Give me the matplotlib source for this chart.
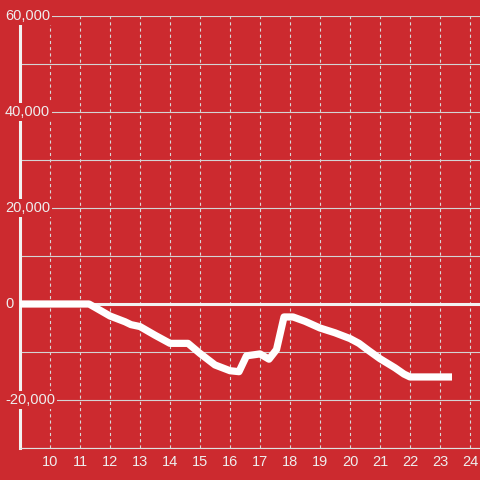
import matplotlib.pyplot as plt
from matplotlib.ticker import MultipleLocator
import matplotlib.transforms as mtransforms

plt.rcParams['font.family'] = ['Liberation Sans', 'DejaVu Sans']

# hour of day vs. running balance
hours = [9, 11.3, 11.5, 12, 12.5, 12.7, 13, 13.5, 14, 14.6, 15, 15.5, 16, 16.3,
         16.55, 17, 17.3, 17.55, 17.8, 18.1, 18.5, 19, 19.5, 20, 20.3, 20.6,
         21, 21.5, 21.8, 22, 23.4]
balance = [0, 0, -700, -2500, -3700, -4300, -4700, -6500, -8200, -8200, -10300,
           -12700, -13900, -14100, -10800, -10400, -11500, -9500, -2700, -2700,
           -3600, -5000, -6000, -7200, -8200, -9600, -11400, -13300, -14600,
           -15200, -15200]

y_ticks = [-20000, 0, 20000, 40000, 60000]
y_labels = ['-20,000', '0', '20,000', '40,000', '60,000']
x_ticks = list(range(10, 25))

bg = '#cc2a2f'
fg = '#eeeeee'

fig = plt.figure(figsize=(4.8, 4.8), dpi=100, facecolor=bg)
ax = fig.add_axes([20 / 480, 32 / 480, 460 / 480, 432 / 480])
ax.set_facecolor(bg)

ax.set_xlim(9, 24 + 1 / 3)
ax.set_ylim(-30000, 60000)

# grid
ax.yaxis.set_minor_locator(MultipleLocator(10000))
ax.grid(which='both', axis='y', color='#d4d4d4', lw=0.8, zorder=1)
ax.set_xticks(x_ticks)
ax.grid(which='major', axis='x', color='#d8d8d8', lw=0.8,
        linestyle=(0, (2.8, 2.8)), zorder=1)
ax.axhline(0, color='#f2f2f2', lw=2.2, zorder=2)

ax.plot(hours, balance, color='white', lw=5.2, solid_capstyle='butt',
        solid_joinstyle='round', zorder=3)

# spines
for s in ['top', 'right']:
    ax.spines[s].set_visible(False)
ax.spines['left'].set_color('#f2f2f2')
ax.spines['left'].set_linewidth(2.2)
ax.spines['bottom'].set_color('#e0e0e0')
ax.spines['bottom'].set_linewidth(0.8)

# y labels sit on top of the axis with a background patch
ax.set_yticks(y_ticks)
ax.set_yticklabels([])
ax.tick_params(axis='y', which='both', length=0)
trans = mtransforms.blended_transform_factory(ax.transAxes, ax.transData)
for v, lab in zip(y_ticks, y_labels):
    ax.text(-15 / 460, v, lab, transform=trans, ha='left', va='center',
            fontsize=10.5, color=fg, zorder=6, clip_on=False,
            bbox=dict(facecolor=bg, edgecolor='none', pad=1.5))
ax.tick_params(axis='x', length=0, pad=5, labelsize=10.5, labelcolor=fg)

fig.savefig('out.png', dpi=100, facecolor=bg)
